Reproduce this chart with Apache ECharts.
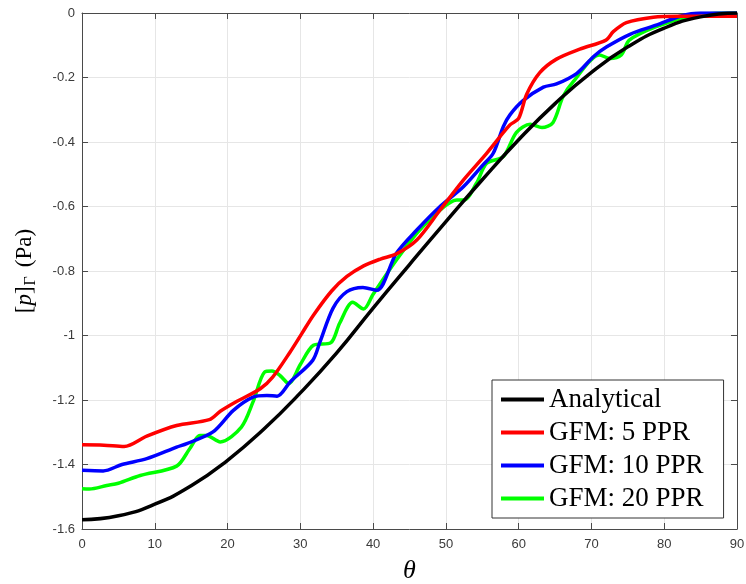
<!DOCTYPE html>
<html>
<head>
<meta charset="utf-8">
<script src="https://cdn.jsdelivr.net/npm/echarts@6/dist/echarts.min.js"></script>
<style>html,body{margin:0;padding:0;background:#fff}#c{width:746px;height:584px}</style>
</head>
<body>
<div id="c"></div>
<script>
// Analytical
const analyticalTheta = [0,5,10,15,20,25,30,35,40,45,50,55,60,65,70,75,80,85,90];
const analyticalP = [-1.571,-1.559,-1.523,-1.466,-1.387,-1.290,-1.178,-1.054,-0.915,-0.780,-0.647,-0.517,-0.393,-0.281,-0.184,-0.105,-0.047,-0.012,0];
// GFM: 5 PPR
const gfm5Theta = [0,3,5.8,8.9,13,17.5,19,21.3,24.5,26.2,28.6,30.2,31.8,34.3,36.4,38.7,41,43.2,46,49.2,52.4,55.6,58.8,60,61.1,62.9,65.2,68.4,72,73,74.8,78.5,82,86,90];
const gfm5P = [-1.339,-1.340,-1.344,-1.312,-1.279,-1.261,-1.235,-1.204,-1.165,-1.129,-1.051,-0.994,-0.937,-0.862,-0.817,-0.784,-0.763,-0.747,-0.704,-0.611,-0.518,-0.435,-0.347,-0.327,-0.252,-0.185,-0.143,-0.112,-0.084,-0.058,-0.030,-0.013,-0.010,-0.010,-0.010];
// GFM: 10 PPR
const gfm10Theta = [0,2.9,5.5,8.9,13,14.4,18,20.8,23.5,25.4,26.8,28.6,31.7,32.7,34.5,36.4,38.6,40.5,43.2,46,49.2,52.4,55.1,56.5,57.9,58.8,60.6,63.4,65.2,68,70.3,72.1,75.3,79,82.2,85,90];
const gfm10P = [-1.418,-1.420,-1.400,-1.382,-1.346,-1.335,-1.299,-1.232,-1.191,-1.186,-1.188,-1.144,-1.077,-1.020,-0.915,-0.864,-0.851,-0.860,-0.745,-0.673,-0.600,-0.539,-0.471,-0.435,-0.352,-0.316,-0.272,-0.230,-0.220,-0.187,-0.135,-0.105,-0.066,-0.037,-0.010,0,0];
// GFM: 20 PPR
const gfm20Theta = [0,1,3.4,5,8,13,14.8,16.2,17.1,19,21.9,23.5,25.1,26.1,27.2,28.4,30,31.8,34.2,35.4,37.2,38.7,40,43.2,46,49.2,51.5,52.5,54.2,55.6,57.9,59.7,61.6,63.2,64.7,66.1,67.5,71.1,72.5,74.1,75.2,78.9,83.5,88,90];
const gfm20P = [-1.475,-1.476,-1.465,-1.458,-1.434,-1.405,-1.351,-1.310,-1.310,-1.330,-1.284,-1.206,-1.113,-1.110,-1.124,-1.149,-1.090,-1.030,-1.022,-0.962,-0.897,-0.918,-0.872,-0.766,-0.683,-0.611,-0.580,-0.580,-0.528,-0.466,-0.445,-0.370,-0.345,-0.355,-0.340,-0.259,-0.213,-0.130,-0.141,-0.130,-0.084,-0.042,-0.011,0,0];

const seriesNames = ['Analytical','GFM: 5 PPR','GFM: 10 PPR','GFM: 20 PPR'];
const seriesColors = ['#000000','#ff0000','#0000ff','#00ff00'];

const zip = (a,b) => a.map((v,i)=>[v,b[i]]);
const dataSets = [zip(analyticalTheta,analyticalP), zip(gfm5Theta,gfm5P), zip(gfm10Theta,gfm10P), zip(gfm20Theta,gfm20P)];

const axisColor = '#4a4a4a';
const gridColor = '#e6e6e6';
const labelStyle = {color:'#3a3a3a', fontSize:13, fontFamily:'Liberation Sans'};

const chart = echarts.init(document.getElementById('c'), null, {renderer:'canvas'});
chart.setOption({
  animation:false,
  backgroundColor:'#ffffff',
  grid:{left:82, right:9, top:13, bottom:55, containLabel:false, outerBoundsMode:'none'},
  legend:{
    orient:'vertical',
    left:492, top:380,
    padding:[6,20,6,9],
    icon:'rect',
    itemWidth:43, itemHeight:4, itemGap:6,
    backgroundColor:'#ffffff',
    borderColor:'#333333', borderWidth:1,
    textStyle:{fontFamily:'Liberation Serif', fontSize:27, lineHeight:26, color:'#000'},
    data: seriesNames
  },
  xAxis:[{
    type:'value', min:0, max:90, interval:10,
    name:'θ', nameLocation:'middle', nameGap:29,
    nameTextStyle:{fontFamily:'Liberation Serif', fontStyle:'italic', fontSize:26, color:'#000'},
    axisLine:{show:true, onZero:false, lineStyle:{color:axisColor, width:1}},
    axisTick:{show:true, inside:true, length:6, lineStyle:{color:axisColor}},
    axisLabel:Object.assign({margin:9}, labelStyle),
    splitLine:{show:true, lineStyle:{color:gridColor, width:1}}
  },{
    type:'value', min:0, max:90, interval:10, position:'top',
    axisLine:{show:true, onZero:false, lineStyle:{color:axisColor, width:1}},
    axisTick:{show:true, inside:true, length:6, lineStyle:{color:axisColor}},
    axisLabel:{show:false}, splitLine:{show:false}
  }],
  yAxis:[{
    type:'value', min:-1.6, max:0, interval:0.2,
    name:'{b|[}{i|p}{b|]}{s|Γ}{g| }{b|(Pa)}', nameLocation:'middle', nameGap:43,
    nameTextStyle:{
      rich:{
        b:{fontFamily:'Liberation Serif', fontSize:23, color:'#000', verticalAlign:'middle'},
        g:{fontFamily:'Liberation Serif', fontSize:23, width:9},
        i:{fontFamily:'Liberation Serif', fontStyle:'italic', fontSize:23, color:'#000', verticalAlign:'middle'},
        s:{fontFamily:'Liberation Serif', fontSize:16, color:'#000', verticalAlign:'bottom', padding:[12,0,0,1]}
      }
    },
    axisLine:{show:true, onZero:false, lineStyle:{color:axisColor, width:1}},
    axisTick:{show:true, inside:true, length:6, lineStyle:{color:axisColor}},
    axisLabel:Object.assign({margin:7}, labelStyle),
    splitLine:{show:true, lineStyle:{color:gridColor, width:1}}
  },{
    type:'value', min:-1.6, max:0, interval:0.2, position:'right',
    axisLine:{show:true, onZero:false, lineStyle:{color:axisColor, width:1}},
    axisTick:{show:true, inside:true, length:6, lineStyle:{color:axisColor}},
    axisLabel:{show:false}, splitLine:{show:false}
  }],
  series: seriesNames.map((n,i)=>({
    name:n, type:'line', data:dataSets[i],
    xAxisIndex:0, yAxisIndex:0,
    symbol:'none', smooth: i===0 ? true : 0.3,
    lineStyle:{color:seriesColors[i], width:3.5},
    itemStyle:{color:seriesColors[i]},
    z: 10 - i
  }))
});
</script>
</body>
</html>
